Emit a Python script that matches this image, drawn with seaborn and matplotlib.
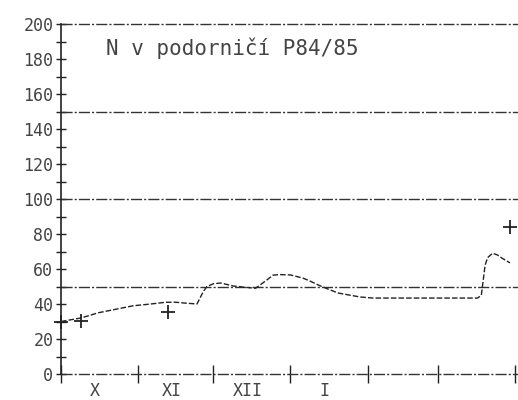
import matplotlib
matplotlib.use("Agg")
import matplotlib.pyplot as plt
import seaborn as sns
import pandas as pd
from matplotlib.ticker import FixedLocator

# --- data (days since 1 Oct 1984, N value) ---
days = [0, 4, 8, 15, 22, 29, 36, 42, 46, 50, 54.5, 57, 58.5, 61, 64, 69, 74, 78,
        82.5, 85, 88, 92, 97, 100, 104, 108, 111, 116, 120, 125, 140, 155, 167,
        168.5, 170, 171, 173, 175, 177, 180]
values = [30, 31, 32, 35, 37, 39, 40, 41, 41, 40.5, 40, 47, 50, 51.5, 52, 50.3, 49.5, 49,
          53.7, 56.5, 56.8, 56.6, 54.8, 53, 50.3, 48, 46.3, 45, 44, 43.4, 43.4, 43.4, 43.4,
          45, 62, 66.5, 69, 68, 66, 63.5]
cross_days = [0, 8, 43, 180]
cross_values = [30, 30.5, 35.5, 84]

month_edges = [0, 31, 61, 92, 123, 151, 182]
month_label_pos = [13.5, 44.5, 75, 105.5]
month_labels = ["X", "XI", "XII", "I"]
y_ticks = list(range(0, 201, 20))
y_minor = list(range(0, 201, 10))
ref_lines = [0, 50, 100, 150, 200]
title = "N v podorničí P84/85"

sns.set_style("white")
plt.rcParams["font.family"] = ["DejaVu Sans Mono", "DejaVu Sans"]

fig = plt.figure(figsize=(5.18, 4.0), dpi=100)
ax = fig.add_axes([61 / 518, 26 / 400, 457 / 518, 350 / 400])

ink = "#222222"
txt = "#444444"

for r in ref_lines:
    ax.axhline(r, color="#333333", lw=1.0, ls=(0, (8, 1.5, 1.5, 1.5)),
               zorder=1, clip_on=False)

df = pd.DataFrame({"day": days, "N": values})
sns.lineplot(data=df, x="day", y="N", ax=ax, color=ink, lw=1.0,
             linestyle=(0, (4, 1.5)), zorder=3)
dc = pd.DataFrame({"day": cross_days, "N": cross_values})
sns.scatterplot(data=dc, x="day", y="N", ax=ax, marker="+", s=110,
                color=ink, linewidth=1.3, zorder=4, clip_on=False)

ax.set_xlim(0, 183.2)
ax.set_ylim(0, 200)
ax.set_xlabel("")
ax.set_ylabel("")

for s in ["top", "right", "bottom"]:
    ax.spines[s].set_visible(False)
ax.spines["left"].set_color(ink)
ax.spines["left"].set_linewidth(1.2)

ax.yaxis.set_major_locator(FixedLocator(y_ticks))
ax.yaxis.set_minor_locator(FixedLocator(y_minor))
ax.set_yticklabels([str(v) for v in y_ticks])
ax.tick_params(axis="y", which="both", direction="inout", length=7, width=1.0,
               color=ink, labelsize=12, labelcolor=txt, pad=2, left=True)

ax.xaxis.set_major_locator(FixedLocator(month_edges))
ax.xaxis.set_minor_locator(FixedLocator(month_label_pos))
ax.set_xticklabels([""] * len(month_edges))
ax.set_xticklabels(month_labels, minor=True)
ax.tick_params(axis="x", which="major", direction="inout", length=13, width=1.0,
               color=ink, bottom=True)
ax.tick_params(axis="x", which="minor", length=0, labelsize=12, labelcolor=txt,
               pad=6, bottom=True)

ax.text(18, 186, title, fontsize=15, color=txt, ha="left", va="center")

fig.savefig("out.png", dpi=100)
